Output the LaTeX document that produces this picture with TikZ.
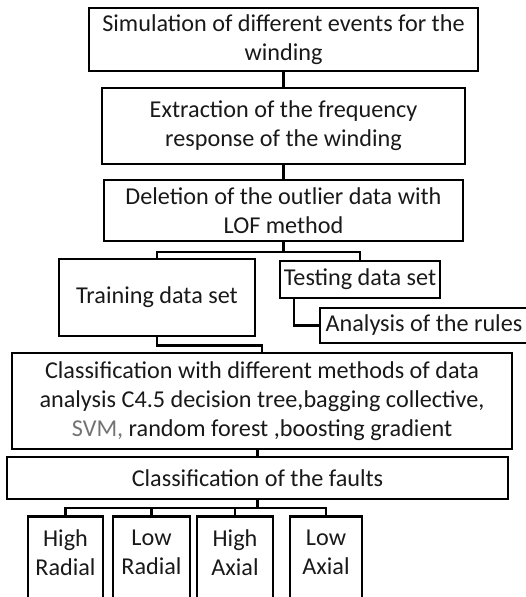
\documentclass[tikz,border=0pt]{standalone}
\usepackage{fontspec}
\setmainfont{Carlito}
\begin{document}
\begin{tikzpicture}[x=1pt,y=-1pt,
    box/.style={draw, line width=2.8pt, align=center, inner sep=0pt,
        text=black!90, font=\fontsize{24.2}{29}\selectfont},
    leaf/.style={box, anchor=north, minimum width=75pt, minimum height=100pt, text depth=28pt},
    link/.style={line width=2.2pt}]
        \useasboundingbox (0,0) rectangle (526,597);

        % Draw the main chain of steps
        \node[box, minimum width=389pt, minimum height=63pt] (sim) at (283.5,39.5)
            {Simulation of different events for the\\winding};
        \node[box, minimum width=363pt, minimum height=76pt] (extr) at (283.5,126)
            {Extraction of the frequency\\response of the winding};
        \node[box, minimum width=359pt, minimum height=61pt] (del) at (283.5,210.5)
            {Deletion of the outlier data with\\LOF method};
        \node[box, minimum width=196pt, minimum height=77pt] (train) at (157,297.5)
            {Training data set};
        \node[box, minimum width=160pt, minimum height=37pt] (test) at (360,279.5)
            {Testing data set};
        \node[box, minimum width=208pt, minimum height=35pt] (rules) at (424,325.5)
            {Analysis of the rules};
        \node[box, minimum width=500pt, minimum height=96pt] (classif) at (262,401)
            {Classification with different methods of data\\analysis C4.5 decision tree,bagging collective,\\{\color{black!55}SVM,} random forest ,boosting gradient};
        \node[box, minimum width=501pt, minimum height=42pt] (faults) at (257.5,478)
            {Classification of the faults};

        % Draw the four fault types
        \node[leaf] (hr) at (65.5,515) {High\\Radial};
        \node[leaf, minimum width=77pt] (lr) at (151.5,515) {Low\\Radial};
        \node[leaf, minimum width=76pt] (ha) at (235,515) {High\\Axial};
        \node[leaf, minimum width=72pt] (la) at (326,515) {Low\\Axial};

        % Draw the connectors
        \draw[link] (sim) -- (extr);
        \draw[link] (extr) -- (del);
        \draw[link] (del.south) -- ++(0,9.5) -| (train.north);
        \draw[link] (del.south) -- ++(0,9.5) -| (test.north);
        \draw[link] ([xshift=15pt]test.south west) |- (rules.west);
        \draw[link] (train.south) -- ++(0,8) -| (classif.north);
        \draw[link] (faults.north |- classif.south) -- (faults.north);
        \foreach \leaf in {hr,lr,ha,la}
            \draw[link] (faults.south) -- ++(0,7.5) -| (\leaf.north);
\end{tikzpicture}
\end{document}
